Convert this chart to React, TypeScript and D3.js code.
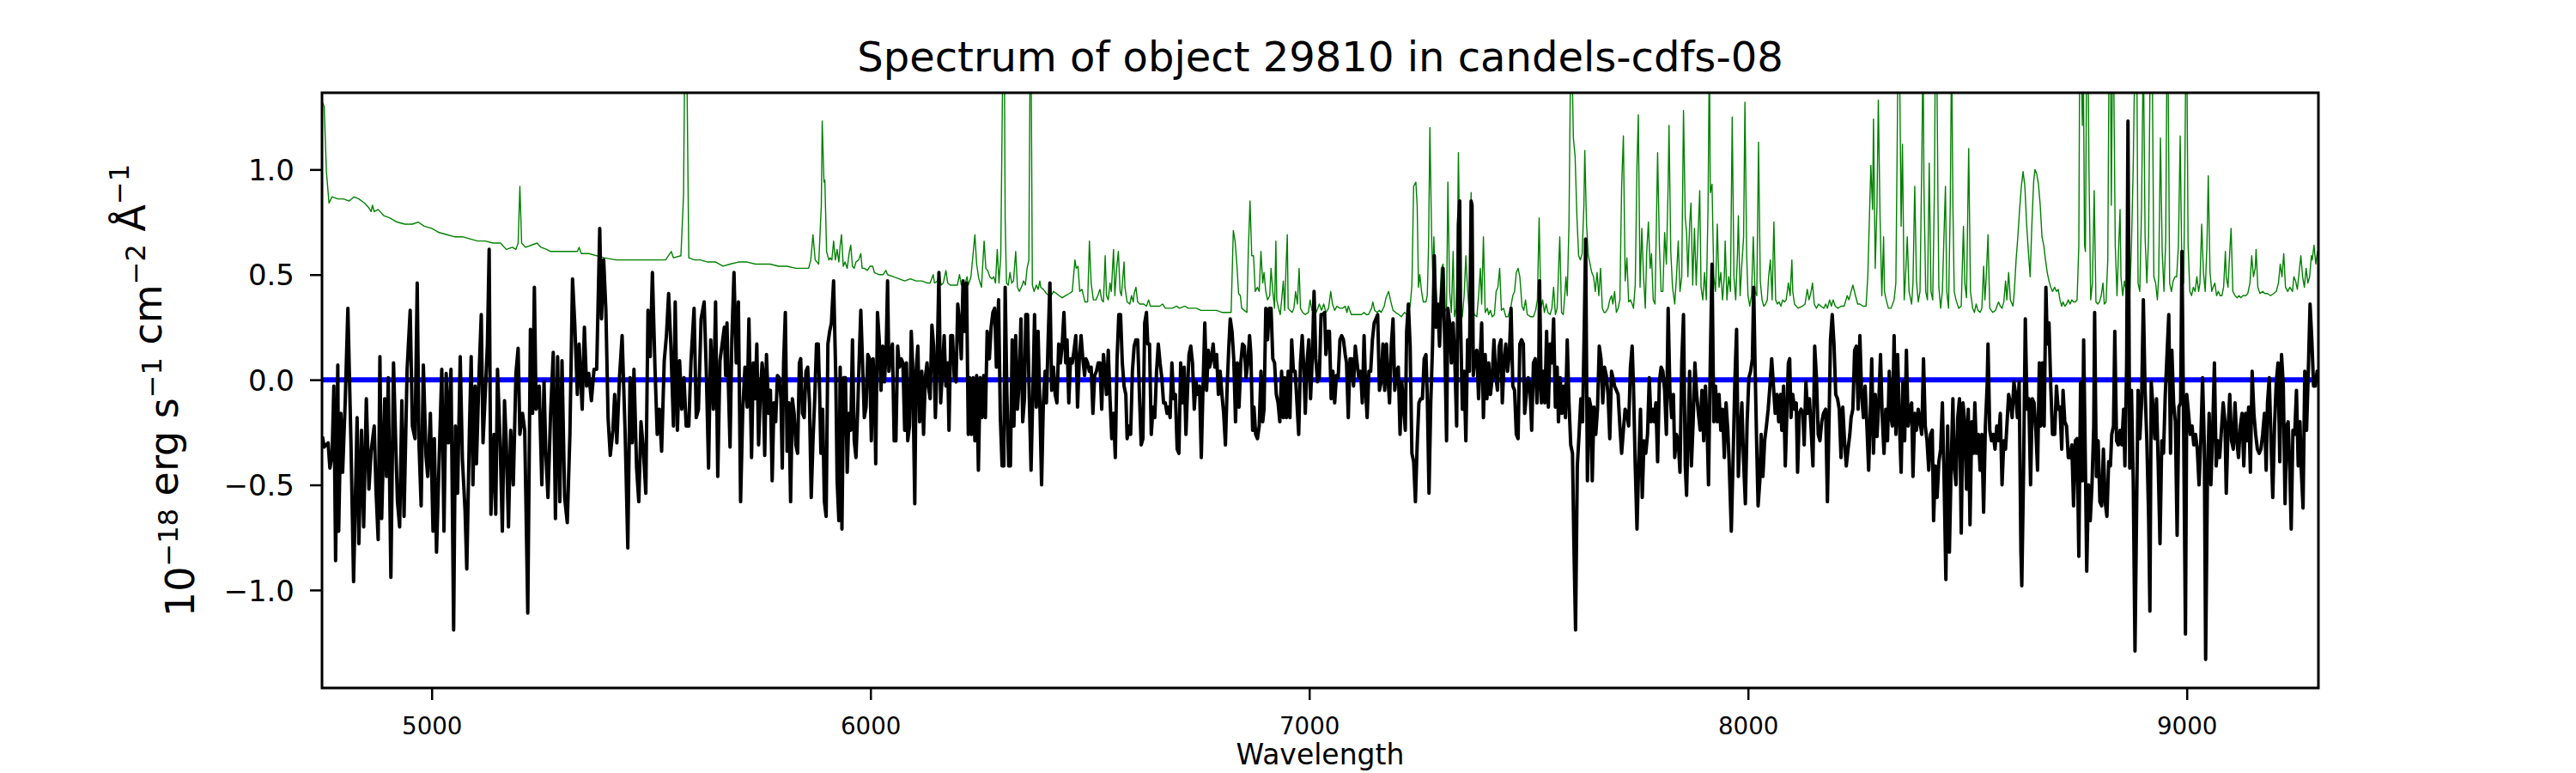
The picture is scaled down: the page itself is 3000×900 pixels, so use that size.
import * as d3 from 'd3';
import React, { useEffect, useRef } from 'react';

const WIDTH = 3000;
const HEIGHT = 900;
const FONT = "DejaVu Sans";

const TITLE = "Spectrum of object 29810 in candels-cdfs-08";
const X_LABEL = "Wavelength";
const X_DOMAIN: [number, number] = [4750, 9300];
const Y_DOMAIN: [number, number] = [-1.466, 1.365];
const X_TICKS = [5000, 6000, 7000, 8000, 9000];
const Y_TICKS = [-1.0, -0.5, 0.0, 0.5, 1.0];

// black curve: [wavelength, flux]
const fluxPoints: [number, number][] = [
  [4751,-0.27],[4755,-0.32],[4764,-0.30],[4768,-0.42],[4773,-0.36],[4777,-0.03],[4781,-0.86],[4786,0.07],[4788,-0.72],[4793,-0.16],[4797,-0.44],[4803,-0.10],[4809,0.34],[4816,-0.30],[4822,-0.96],[4830,-0.18],[4834,-0.78],[4840,-0.24],[4845,-0.70],[4851,-0.09],[4857,-0.52],[4862,-0.34],[4869,-0.22],[4873,-0.52],[4878,-0.76],[4882,0.11],[4886,-0.66],[4893,-0.09],[4897,-0.46],[4901,0.01],[4907,-0.94],[4913,0.08],[4918,-0.30],[4922,-0.58],[4927,-0.70],[4932,-0.10],[4937,-0.65],[4944,0.05],[4951,0.33],[4956,-0.22],[4962,-0.28],[4967,0.46],[4971,-0.30],[4976,-0.60],[4981,0.07],[4987,-0.36],[4991,-0.46],[4997,-0.16],
  [5003,-0.72],[5006,-0.28],[5011,-0.82],[5017,-0.38],[5023,0.05],[5028,-0.72],[5033,0.03],[5038,-0.30],[5044,0.05],[5050,-1.19],[5054,-0.22],[5059,-0.54],[5065,0.11],[5070,-0.38],[5076,-0.62],[5080,-0.90],[5086,-0.24],[5090,0.11],[5094,-0.50],[5099,-0.03],[5102,-0.40],[5108,0.03],[5113,0.31],[5117,-0.30],[5122,-0.07],[5127,0.17],[5131,0.62],[5135,-0.64],[5142,-0.26],[5146,-0.64],[5150,0.05],[5156,-0.30],[5161,-0.72],[5166,-0.10],[5170,-0.30],[5175,-0.70],[5180,-0.24],[5186,-0.50],[5192,0.03],[5197,0.15],[5201,-0.26],[5207,-0.16],[5212,-0.24],[5219,-1.11],[5225,0.24],[5230,-0.16],[5234,0.44],[5238,-0.14],[5245,-0.03],[5251,-0.50],[5256,-0.01],[5260,-0.34],[5265,-0.56],[5271,-0.16],[5277,0.13],[5282,-0.66],[5287,0.11],[5292,-0.58],[5297,0.09],
  [5303,-0.56],[5309,-0.68],[5315,-0.26],[5321,0.48],[5326,0.27],[5332,-0.07],[5336,0.17],[5343,-0.14],[5348,0.25],[5353,-0.03],[5358,0.03],[5364,-0.10],[5370,0.05],[5376,0.05],[5383,0.72],[5387,0.29],[5392,0.57],[5397,0.33],[5402,-0.18],[5407,-0.36],[5413,-0.24],[5417,-0.07],[5422,-0.30],[5428,0.01],[5434,0.21],[5441,-0.26],[5447,-0.80],[5452,0.01],[5457,-0.30],[5461,0.05],[5467,-0.42],[5472,-0.58],[5477,-0.20],[5482,-0.32],[5488,-0.54],[5493,0.33],[5498,0.11],[5503,0.51],[5509,0.05],[5514,-0.26],[5519,-0.14],[5524,-0.34],[5530,0.09],[5535,0.21],[5540,0.41],[5545,0.17],[5551,-0.22],[5555,0.37],[5560,-0.24],[5565,0.09],[5570,-0.14],[5575,0.01],[5580,-0.22],[5586,-0.22],[5591,0.09],[5598,0.34],
  [5603,-0.18],[5608,-0.14],[5614,0.29],[5621,0.37],[5626,0.03],[5631,-0.42],[5636,0.19],[5642,-0.14],[5647,0.37],[5652,-0.46],[5657,0.09],[5667,0.25],[5670,0.02],[5673,0.27],[5676,-0.01],[5680,-0.32],[5684,0.19],[5689,0.51],[5694,0.08],[5699,0.37],[5704,-0.58],[5709,-0.14],[5714,0.06],[5719,-0.13],[5723,0.29],[5729,-0.37],[5733,0.08],[5737,-0.09],[5741,0.17],[5745,-0.31],[5749,-0.07],[5753,0.08],[5755,0.04],[5759,-0.36],[5763,0.12],[5768,-0.16],[5772,-0.05],[5776,-0.48],[5780,-0.11],[5784,-0.20],[5788,0.02],[5792,0.01],[5796,-0.09],[5799,-0.42],
  [5802,0.08],[5806,0.32],[5810,-0.34],[5814,-0.11],[5818,-0.58],[5822,-0.09],[5826,-0.16],[5830,-0.31],[5834,-0.35],[5838,0.08],[5841,0.10],[5845,-0.16],[5849,-0.18],[5853,0.04],[5857,0.06],[5861,-0.11],[5865,-0.56],[5869,-0.29],[5873,-0.09],[5877,0.17],[5881,0.17],[5884,-0.05],[5887,-0.35],[5891,-0.14],[5895,-0.58],[5899,-0.65],[5903,0.17],[5907,0.23],[5911,0.27],[5916,0.47],[5921,0.01],[5924,-0.48],[5928,-0.67],[5931,0.06],[5935,-0.71],[5939,0.01],[5943,0.01],[5947,-0.44],[5951,-0.16],[5955,-0.24],[5959,0.19],[5963,-0.29],[5967,-0.37],[5971,-0.14],[5974,0.08],[5978,0.33],[5982,0.08],[5986,-0.18],[5990,-0.13],[5994,0.12],[5998,0.10],
  [6002,-0.29],[6006,0.10],[6010,-0.11],[6012,-0.40],[6016,0.32],[6020,0.19],[6024,-0.05],[6028,0.16],[6032,-0.01],[6036,0.16],[6039,0.47],[6042,0.04],[6046,0.12],[6050,0.17],[6054,-0.29],[6058,-0.29],[6062,0.16],[6066,0.06],[6070,0.10],[6074,0.08],[6078,-0.24],[6082,0.08],[6085,-0.29],[6089,-0.22],[6093,0.23],[6096,0.08],[6101,-0.59],[6104,0.04],[6108,0.16],[6112,-0.20],[6117,0.04],[6121,-0.26],[6125,0.01],[6129,0.08],[6132,-0.03],[6136,-0.09],[6140,0.26],[6144,0.16],[6148,-0.18],[6152,0.08],[6156,0.51],[6160,-0.11],[6164,0.04],[6168,0.21],[6172,-0.03],[6176,0.08],[6179,-0.24],[6183,0.21],[6187,0.21],[6191,0.01],[6195,-0.01],[6199,0.36],
  [6203,0.27],[6207,0.10],[6211,0.47],[6215,0.23],[6219,0.46],[6223,-0.26],[6226,0.01],[6230,-0.26],[6234,0.01],[6238,-0.29],[6242,0.02],[6246,-0.43],[6250,0.01],[6254,-0.18],[6258,0.02],[6262,-0.18],[6266,0.23],[6271,0.10],[6275,0.25],[6279,0.32],[6283,0.34],[6287,0.06],[6292,0.38],[6296,-0.18],[6300,-0.41],[6304,-0.41],[6307,0.44],[6311,-0.07],[6315,-0.41],[6319,-0.41],[6323,0.19],[6327,-0.22],[6331,0.21],[6335,-0.14],[6339,-0.01],[6343,0.29],[6347,-0.20],[6351,-0.09],[6354,0.31],[6358,0.31],[6362,-0.09],[6366,-0.43],[6370,-0.07],[6374,0.31],[6378,-0.13],[6382,0.23],[6386,-0.11],[6390,-0.50],[6394,-0.11],[6398,0.04],
  [6401,-0.11],[6405,0.19],[6409,0.46],[6413,-0.05],[6417,0.06],[6421,-0.07],[6425,-0.11],[6429,0.17],[6433,0.08],[6437,0.17],[6441,0.32],[6445,0.08],[6448,0.19],[6452,-0.11],[6456,0.10],[6460,0.08],[6464,0.14],[6468,0.21],[6472,-0.13],[6476,0.10],[6480,0.21],[6484,0.10],[6488,0.02],[6491,0.10],[6495,0.08],[6499,0.04],[6503,0.06],[6507,-0.16],[6511,0.02],[6515,0.04],[6519,0.08],[6523,0.08],[6527,-0.14],[6531,0.12],[6535,0.02],[6538,-0.07],[6542,0.14],[6546,-0.09],[6550,-0.28],[6554,-0.16],[6558,-0.37],[6562,0.10],[6566,0.31],[6570,0.31],[6574,0.08],[6578,-0.03],[6582,-0.07],[6585,-0.28],[6589,-0.22],[6593,-0.26],[6597,0.04],
  [6601,0.16],[6605,0.19],[6609,0.19],[6613,-0.07],[6617,-0.31],[6621,-0.28],[6625,0.27],[6629,0.32],[6632,0.17],[6636,0.17],[6640,-0.26],[6644,-0.13],[6648,-0.18],[6652,0.04],[6656,0.17],[6660,0.08],[6664,0.01],[6668,-0.11],[6672,-0.11],[6676,-0.16],[6679,-0.13],[6683,-0.18],[6687,0.08],[6691,-0.09],[6695,-0.07],[6699,-0.33],[6703,-0.35],[6707,0.08],[6711,-0.11],[6715,0.06],[6719,-0.26],[6723,-0.03],[6726,0.12],[6730,0.16],[6734,0.08],[6738,-0.14],[6742,-0.01],[6746,-0.07],[6750,-0.03],[6754,-0.37],[6758,-0.03],[6762,0.27],[6766,-0.05],[6770,0.14],[6773,0.06],[6777,0.10],[6781,0.17],[6785,0.06],[6789,0.12],[6793,-0.07],[6797,0.04],
  [6801,-0.07],[6805,-0.16],[6809,-0.31],[6813,-0.03],[6817,0.17],[6820,0.29],[6824,0.23],[6828,0.10],[6832,-0.20],[6836,0.08],[6840,-0.13],[6844,0.08],[6848,0.17],[6852,0.16],[6856,0.01],[6860,0.08],[6864,0.21],[6867,0.12],[6871,-0.24],[6874,-0.13],[6878,-0.26],[6882,-0.28],[6886,-0.22],[6890,0.04],[6894,-0.20],[6897,-0.14],[6901,0.34],[6905,0.19],[6909,0.34],[6913,0.34],[6917,0.10],[6921,0.08],[6925,-0.07],[6929,-0.11],[6933,-0.20],[6937,0.04],[6941,-0.18],[6944,0.01],[6948,-0.18],[6952,0.04],[6956,-0.18],[6960,0.19],[6964,0.04],[6968,0.04],[6972,-0.11],[6976,-0.26],[6980,0.08],[6984,0.21],[6988,0.04],[6991,-0.16],[6995,0.08],[6999,0.19],
  [7003,-0.09],[7007,0.10],[7011,0.42],[7015,0.10],[7019,-0.01],[7023,0.01],[7027,0.31],[7031,0.31],[7035,0.32],[7038,0.12],[7042,0.23],[7046,0.23],[7050,-0.09],[7054,0.04],[7058,-0.11],[7062,0.02],[7066,0.01],[7070,0.19],[7074,0.21],[7078,0.19],[7082,0.12],[7085,0.08],[7089,-0.18],[7093,0.10],[7097,0.10],[7101,-0.03],[7105,0.16],[7109,0.08],[7113,0.01],[7117,0.04],[7121,-0.11],[7125,0.21],[7129,-0.07],[7132,-0.18],[7136,0.04],[7140,0.04],[7144,0.19],[7148,0.27],[7152,0.29],[7156,0.31],[7160,-0.05],[7164,-0.01],[7168,0.17],[7172,-0.05],[7176,0.17],[7179,0.02],[7183,-0.11],[7187,0.16],[7191,0.29],[7195,-0.05],[7199,0.04],
  [7203,0.06],[7207,-0.26],[7211,-0.01],[7215,-0.13],[7219,-0.24],[7222,0.23],[7226,0.36],[7230,0.16],[7234,-0.35],[7238,-0.39],[7242,-0.58],[7246,-0.31],[7250,-0.11],[7254,-0.09],[7258,-0.09],[7262,0.10],[7266,0.12],[7269,-0.07],[7273,-0.54],[7277,-0.11],[7281,0.16],[7285,0.59],[7289,0.25],[7293,0.36],[7297,0.16],[7301,0.38],[7305,0.53],[7309,0.16],[7313,-0.29],[7316,0.34],[7320,0.27],[7324,0.08],[7328,0.27],[7332,0.08],[7336,-0.22],[7340,0.74],[7343,0.85],[7345,0.27],[7349,-0.14],[7353,0.04],[7357,-0.29],[7361,0.19],[7365,0.04],[7369,0.85],[7371,0.83],[7374,0.02],[7378,0.12],[7382,0.14],[7386,-0.09],[7390,0.12],[7393,0.27],[7397,-0.18],
  [7401,0.12],[7405,-0.09],[7409,0.08],[7413,-0.07],[7417,0.01],[7421,0.19],[7425,0.02],[7429,-0.05],[7433,0.16],[7437,0.19],[7440,-0.11],[7444,0.08],[7448,0.17],[7452,0.04],[7456,0.12],[7460,0.34],[7464,-0.03],[7468,-0.05],[7472,-0.26],[7476,-0.28],[7480,0.17],[7484,0.19],[7488,0.17],[7491,-0.16],[7495,-0.07],[7499,0.01],[7503,-0.03],[7507,-0.24],[7511,0.08],[7515,0.10],[7519,-0.11],[7523,0.04],[7525,0.47],[7529,-0.11],[7533,0.04],[7537,-0.11],[7541,0.23],[7545,-0.13],[7549,0.17],[7553,0.08],[7557,0.29],[7561,-0.13],[7565,0.06],[7568,-0.20],[7572,0.01],[7576,-0.16],[7580,-0.03],[7584,-0.18],[7588,0.19],[7592,-0.11],[7596,-0.31],
  [7600,-0.35],[7603,-0.76],[7607,-1.19],[7611,-0.41],[7615,-0.26],[7619,-0.09],[7623,-0.20],[7627,0.27],[7630,0.67],[7634,-0.48],[7638,-0.09],[7642,-0.13],[7645,-0.48],[7649,-0.13],[7653,-0.26],[7657,-0.14],[7661,0.16],[7665,0.10],[7669,-0.11],[7673,0.06],[7677,0.02],[7681,-0.07],[7685,-0.28],[7689,0.04],[7692,0.01],[7696,-0.03],[7700,-0.05],[7704,-0.07],[7708,-0.22],[7712,-0.35],[7716,-0.24],[7720,-0.14],[7724,-0.16],[7728,-0.22],[7732,0.06],[7736,0.16],[7739,-0.03],[7743,-0.41],[7747,-0.71],[7751,-0.39],[7755,-0.14],[7759,-0.56],[7763,-0.29],[7767,-0.35],[7771,-0.26],[7775,0.01],[7779,-0.20],[7783,-0.14],[7786,-0.20],[7790,-0.11],[7794,-0.39],[7798,-0.01],
  [7802,0.06],[7806,0.04],[7810,-0.05],[7814,-0.26],[7818,0.34],[7822,-0.05],[7826,-0.18],[7830,-0.07],[7833,-0.37],[7837,-0.26],[7841,-0.29],[7845,-0.44],[7849,0.08],[7853,0.31],[7857,-0.41],[7860,-0.55],[7863,-0.28],[7867,0.04],[7871,-0.41],[7875,-0.20],[7879,0.08],[7883,-0.07],[7887,-0.16],[7891,-0.24],[7895,-0.05],[7899,-0.29],[7903,-0.03],[7907,-0.24],[7910,-0.50],[7914,0.08],[7918,0.55],[7922,-0.20],[7926,-0.03],[7930,-0.20],[7934,-0.07],[7938,-0.24],[7942,-0.14],[7946,-0.37],[7950,-0.11],[7954,-0.24],[7957,-0.39],[7962,-0.72],[7967,-0.29],[7970,-0.01],[7974,0.24],[7978,-0.46],[7982,-0.26],[7986,-0.11],[7990,-0.39],[7994,-0.59],[7998,-0.20],
  [8002,0.01],[8006,0.04],[8010,0.10],[8013,0.44],[8016,0.08],[8020,-0.33],[8023,-0.60],[8027,-0.48],[8030,-0.26],[8034,-0.46],[8038,-0.29],[8042,-0.22],[8046,-0.14],[8050,-0.03],[8054,0.10],[8058,-0.03],[8062,-0.16],[8066,-0.07],[8070,-0.20],[8074,-0.07],[8077,-0.24],[8081,-0.03],[8085,-0.41],[8092,0.08],[8095,0.10],[8098,-0.18],[8102,-0.07],[8106,-0.14],[8110,-0.11],[8113,-0.44],[8117,-0.16],[8121,-0.14],[8125,-0.16],[8128,-0.31],[8132,-0.01],[8136,-0.16],[8140,-0.09],[8144,-0.24],[8148,-0.41],[8152,0.16],[8156,0.01],[8160,-0.26],[8164,-0.29],[8168,-0.20],[8172,-0.16],[8177,-0.14],[8181,-0.58],[8185,-0.16],[8188,0.19],[8192,0.31],[8196,0.17],
  [8200,-0.07],[8204,-0.09],[8208,-0.14],[8212,-0.37],[8216,-0.13],[8220,-0.29],[8224,-0.41],[8228,-0.33],[8232,-0.26],[8235,-0.18],[8239,-0.14],[8243,0.14],[8247,0.16],[8251,-0.14],[8255,0.21],[8259,-0.07],[8263,-0.18],[8267,-0.03],[8271,-0.22],[8275,-0.43],[8279,-0.14],[8282,0.10],[8286,-0.35],[8290,-0.07],[8294,-0.27],[8298,-0.11],[8302,0.12],[8306,-0.18],[8310,-0.35],[8314,-0.14],[8318,-0.29],[8322,0.04],[8326,-0.18],[8329,-0.22],[8333,0.21],[8337,-0.26],[8341,0.12],[8345,-0.20],[8349,-0.44],[8353,-0.01],[8357,-0.29],[8361,0.14],[8365,-0.22],[8369,-0.14],[8373,-0.11],[8376,-0.46],[8380,-0.16],[8384,-0.24],[8388,-0.14],[8392,-0.20],[8396,-0.26],
  [8400,0.10],[8404,-0.22],[8408,-0.29],[8412,-0.43],[8416,-0.26],[8420,-0.24],[8423,-0.67],[8427,-0.41],[8431,-0.56],[8435,-0.39],[8439,-0.33],[8443,-0.11],[8447,-0.48],[8451,-0.95],[8455,-0.22],[8459,-0.82],[8463,-0.41],[8467,-0.09],[8470,-0.41],[8474,-0.50],[8478,-0.18],[8482,-0.09],[8486,-0.73],[8490,-0.11],[8494,-0.20],[8498,-0.52],[8502,-0.14],[8506,-0.69],[8510,-0.20],[8514,-0.35],[8517,-0.11],[8521,-0.35],[8525,-0.26],[8529,-0.43],[8533,-0.26],[8537,-0.63],[8541,-0.22],[8545,-0.03],[8547,0.17],[8551,-0.24],[8555,-0.29],[8559,-0.26],[8563,-0.33],[8567,-0.22],[8571,-0.29],[8575,-0.16],[8579,-0.50],[8583,-0.29],[8587,-0.33],[8590,-0.22],[8594,-0.07],[8598,-0.11],
  [8602,-0.18],[8606,-0.01],[8610,-0.07],[8614,-0.18],[8618,-0.01],[8622,-0.82],[8624,-0.98],[8628,-0.44],[8632,0.29],[8636,-0.14],[8640,-0.09],[8644,-0.50],[8648,-0.09],[8652,-0.11],[8656,-0.24],[8660,-0.43],[8664,0.08],[8667,-0.22],[8671,0.08],[8675,-0.22],[8679,0.44],[8682,0.17],[8686,0.27],[8690,-0.03],[8694,-0.26],[8699,-0.26],[8703,-0.03],[8707,-0.14],[8711,-0.13],[8715,-0.33],[8718,-0.05],[8722,-0.20],[8726,-0.22],[8730,-0.37],[8734,-0.37],[8738,-0.31],[8742,-0.60],[8746,-0.29],[8750,-0.28],[8754,-0.84],[8758,-0.01],[8762,-0.48],[8765,0.19],[8769,-0.41],[8772,-0.91],[8776,-0.50],[8780,-0.67],[8784,-0.50],[8788,-0.22],[8790,0.32],[8794,-0.46],[8798,-0.29],
  [8802,-0.58],[8806,-0.60],[8810,-0.33],[8814,-0.58],[8818,-0.65],[8822,-0.39],[8826,-0.41],[8829,-0.26],[8833,-0.22],[8836,0.23],[8840,-0.29],[8844,-0.31],[8848,-0.24],[8852,-0.31],[8856,-0.14],[8859,-0.41],[8863,0.08],[8866,1.23],[8870,-0.42],[8874,-0.05],[8878,-0.48],[8882,-1.29],[8886,-0.56],[8889,-0.05],[8893,-0.28],[8897,-0.11],[8901,0.38],[8905,-0.05],[8909,-0.29],[8913,-0.65],[8916,-1.10],[8919,-0.01],[8923,-0.13],[8927,-0.28],[8931,-0.09],[8935,-0.41],[8939,-0.78],[8943,-0.29],[8947,-0.35],[8951,-0.07],[8955,0.12],[8959,0.31],[8963,-0.35],[8966,0.14],[8970,-0.11],[8974,-0.20],[8978,-0.74],[8982,-0.13],[8986,-0.11],[8989,0.61],[8993,-0.26],[8997,-1.21],
  [9000,-0.07],[9004,-0.16],[9008,-0.26],[9012,-0.22],[9016,-0.31],[9020,-0.26],[9024,-0.33],[9028,-0.50],[9032,-0.29],[9036,0.01],[9040,-0.31],[9043,-1.33],[9047,-0.48],[9051,-0.16],[9055,-0.50],[9059,-0.24],[9063,0.08],[9067,-0.41],[9071,-0.29],[9075,-0.37],[9079,-0.24],[9083,-0.11],[9087,-0.20],[9090,-0.54],[9094,-0.24],[9098,-0.07],[9102,-0.29],[9106,-0.33],[9110,-0.11],[9114,-0.29],[9118,-0.37],[9122,-0.22],[9126,-0.16],[9130,-0.41],[9134,-0.16],[9137,-0.29],[9141,-0.13],[9145,-0.44],[9149,0.04],[9153,-0.16],[9157,-0.26],[9161,-0.33],[9165,-0.35],[9169,-0.33],[9173,-0.26],[9177,-0.16],[9181,-0.43],[9184,-0.11],[9188,0.01],[9192,-0.29],[9196,-0.56],
  [9200,-0.22],[9204,-0.01],[9208,0.08],[9212,-0.39],[9216,0.12],[9220,-0.03],[9224,-0.59],[9228,-0.22],[9231,-0.20],[9235,-0.44],[9238,-0.71],[9242,-0.24],[9246,-0.26],[9250,-0.05],[9254,-0.41],[9258,-0.20],[9261,-0.43],[9265,-0.61],[9269,0.04],[9273,-0.24],[9277,0.04],[9281,0.36],[9285,0.19],[9289,-0.03],[9293,-0.03],[9297,0.04],[9300,0.02],
];

// green curve: [wavelength, value]; spikes above the frame are clipped
const skyPoints: [number, number][] = [
  [4751,1.32],[4755,1.30],[4760,0.99],[4766,0.84],[4773,0.87],[4786,0.86],[4799,0.86],[4812,0.85],[4823,0.87],[4834,0.86],[4847,0.84],[4856,0.82],[4862,0.80],[4865,0.83],[4869,0.80],[4878,0.81],[4891,0.78],[4904,0.77],[4921,0.75],[4939,0.74],[4956,0.74],[4969,0.75],[4983,0.73],
  [5000,0.72],[5017,0.70],[5035,0.69],[5052,0.68],[5070,0.68],[5087,0.67],[5105,0.66],[5122,0.66],[5140,0.65],[5157,0.65],[5170,0.62],[5184,0.63],[5192,0.62],[5197,0.65],[5201,0.92],[5205,0.65],[5214,0.63],[5227,0.64],[5240,0.65],[5249,0.63],[5262,0.62],[5271,0.61],[5297,0.61],[5332,0.61],[5336,0.63],[5341,0.60],[5358,0.60],[5393,0.58],[5420,0.57],[5446,0.57],[5472,0.57],[5498,0.57],[5533,0.57],[5546,0.61],[5551,0.58],[5568,0.59],[5574,0.88],[5577,1.6],[5581,1.6],[5586,0.58],[5599,0.57],[5612,0.57],[5629,0.56],[5647,0.56],[5664,0.54],[5680,0.55],
  [5699,0.56],[5719,0.56],[5738,0.55],[5758,0.55],[5771,0.55],[5791,0.54],[5810,0.54],[5830,0.53],[5849,0.53],[5859,0.53],[5864,0.57],[5869,0.69],[5874,0.57],[5882,0.55],[5888,0.83],[5890,1.23],[5894,0.94],[5896,0.95],[5900,0.61],[5905,0.57],[5908,0.58],[5912,0.57],[5916,0.66],[5920,0.57],[5924,0.62],[5928,0.56],[5931,0.64],[5934,0.69],[5938,0.54],[5942,0.56],[5947,0.53],[5952,0.61],[5955,0.64],[5959,0.54],[5963,0.53],[5967,0.56],[5973,0.57],[5978,0.60],[5981,0.53],[5986,0.53],[5993,0.52],[5999,0.54],
  [6005,0.54],[6009,0.51],[6019,0.50],[6029,0.50],[6035,0.52],[6039,0.50],[6052,0.49],[6065,0.48],[6078,0.47],[6091,0.48],[6104,0.47],[6117,0.47],[6130,0.46],[6136,0.46],[6143,0.50],[6146,0.46],[6153,0.47],[6157,0.51],[6161,0.45],[6166,0.46],[6172,0.52],[6176,0.46],[6182,0.45],[6189,0.45],[6198,0.45],[6203,0.50],[6207,0.45],[6211,0.47],[6215,0.45],[6220,0.49],[6223,0.45],[6229,0.49],[6238,0.69],[6242,0.55],[6247,0.48],[6253,0.44],[6259,0.66],[6263,0.53],[6267,0.52],
  [6272,0.49],[6277,0.48],[6281,0.49],[6285,0.46],[6289,0.62],[6293,0.46],[6297,0.59],[6300,1.2],[6302,1.6],[6305,1.6],[6307,0.76],[6310,0.46],[6314,0.45],[6318,0.51],[6322,0.46],[6326,0.47],[6331,0.61],[6335,0.44],[6339,0.42],[6344,0.44],[6349,0.47],[6353,0.45],[6357,0.53],[6361,0.57],[6364,1.6],[6366,1.6],[6369,0.45],[6373,0.42],[6378,0.45],[6382,0.43],[6386,0.47],[6388,0.44],[6394,0.43],
  [6401,0.41],[6407,0.40],[6412,0.40],[6417,0.42],[6424,0.41],[6430,0.40],[6437,0.39],[6445,0.40],[6453,0.41],[6460,0.42],[6466,0.57],[6469,0.53],[6473,0.54],[6477,0.42],[6482,0.43],[6489,0.37],[6495,0.37],[6499,0.66],[6503,0.46],[6508,0.38],[6514,0.38],[6518,0.40],[6523,0.43],[6527,0.38],[6531,0.37],[6535,0.59],[6538,0.40],[6542,0.38],[6546,0.46],[6549,0.42],[6554,0.62],[6557,0.40],[6561,0.53],[6565,0.61],[6569,0.42],[6572,0.40],[6578,0.56],[6580,0.44],[6585,0.37],[6591,0.36],[6595,0.40],[6599,0.37],
  [6601,0.41],[6605,0.44],[6609,0.37],[6614,0.36],[6623,0.36],[6629,0.35],[6634,0.38],[6638,0.35],[6642,0.35],[6652,0.35],[6659,0.35],[6666,0.36],[6672,0.34],[6678,0.34],[6688,0.34],[6698,0.35],[6704,0.34],[6717,0.35],[6724,0.34],[6734,0.34],[6743,0.34],[6753,0.33],[6763,0.33],[6776,0.33],[6786,0.33],[6789,0.33],[6802,0.32],[6815,0.32],[6822,0.32],[6827,0.71],[6831,0.66],[6835,0.55],[6839,0.41],[6843,0.40],[6846,0.34],[6852,0.33],[6858,0.32],[6861,0.60],[6865,0.85],[6869,0.59],[6873,0.59],
  [6877,0.42],[6882,0.44],[6886,0.42],[6890,0.61],[6894,0.46],[6897,0.51],[6901,0.42],[6905,0.38],[6910,0.40],[6913,0.53],[6917,0.42],[6921,0.34],[6924,0.66],[6926,0.38],[6930,0.34],[6934,0.31],[6938,0.40],[6941,0.47],[6944,0.33],[6947,0.53],[6950,0.69],[6952,0.34],[6956,0.33],[6961,0.32],[6965,0.34],[6969,0.42],[6973,0.36],[6977,0.53],[6980,0.34],[6985,0.32],[6991,0.31],[6998,0.32],
  [7002,0.38],[7006,0.33],[7011,0.36],[7016,0.32],[7023,0.36],[7028,0.33],[7033,0.36],[7038,0.32],[7044,0.34],[7049,0.42],[7053,0.36],[7058,0.33],[7063,0.35],[7070,0.34],[7076,0.34],[7082,0.35],[7086,0.32],[7089,0.35],[7096,0.31],[7102,0.31],[7109,0.31],[7119,0.31],[7125,0.32],[7130,0.31],[7135,0.31],[7142,0.34],[7145,0.37],[7149,0.33],[7155,0.32],[7160,0.33],[7164,0.32],[7171,0.35],[7175,0.39],[7181,0.42],[7185,0.38],[7191,0.33],[7197,0.32],
  [7204,0.31],[7210,0.30],[7217,0.32],[7223,0.31],[7230,0.35],[7234,0.45],[7238,0.92],[7243,0.94],[7246,0.83],[7249,0.44],[7252,0.50],[7256,0.42],[7260,0.37],[7266,0.37],[7269,0.40],[7272,0.64],[7275,1.20],[7279,0.68],[7282,0.46],[7284,0.68],[7286,0.55],[7292,0.32],[7297,0.34],[7301,0.53],[7305,0.55],[7308,0.32],[7313,0.34],[7316,0.94],[7320,0.42],[7324,0.32],[7328,0.61],[7331,0.30],[7335,0.34],[7337,0.51],[7340,1.08],[7343,0.64],[7345,0.38],[7349,0.30],[7353,0.40],[7357,0.59],[7360,0.46],[7365,0.30],[7369,0.89],[7371,0.38],[7376,0.31],[7382,0.30],[7386,0.40],[7390,0.53],[7393,0.36],[7397,0.68],
  [7401,0.32],[7406,0.34],[7409,0.31],[7413,0.33],[7417,0.30],[7422,0.31],[7426,0.42],[7430,0.44],[7434,0.53],[7438,0.33],[7443,0.34],[7448,0.30],[7453,0.30],[7459,0.34],[7464,0.40],[7468,0.42],[7472,0.51],[7476,0.53],[7480,0.49],[7485,0.35],[7489,0.33],[7493,0.38],[7497,0.31],[7504,0.30],[7511,0.30],[7516,0.33],[7520,0.38],[7524,0.77],[7528,0.34],[7532,0.38],[7536,0.32],[7540,0.36],[7544,0.32],[7549,0.31],[7553,0.34],[7557,0.44],[7561,0.31],[7565,0.34],[7567,0.45],[7571,0.68],[7575,0.32],[7579,0.31],[7583,0.42],[7585,0.49],[7588,0.40],[7592,0.74],[7596,1.6],[7598,1.6],
  [7602,1.15],[7606,1.06],[7610,0.78],[7614,0.59],[7618,0.57],[7622,0.60],[7626,0.83],[7628,1.09],[7632,0.74],[7636,0.59],[7640,0.55],[7644,0.51],[7648,0.49],[7652,0.42],[7656,0.51],[7660,0.40],[7664,0.53],[7668,0.34],[7672,0.32],[7675,0.32],[7681,0.34],[7685,0.38],[7689,0.40],[7692,0.36],[7696,0.42],[7700,0.32],[7704,0.34],[7708,0.38],[7712,0.92],[7716,1.16],[7720,0.47],[7724,0.58],[7728,0.37],[7732,0.38],[7736,0.36],[7739,0.34],[7743,0.45],[7747,1.02],[7750,1.26],[7754,0.44],[7758,0.72],[7762,0.49],[7766,0.34],[7769,0.60],[7773,0.75],[7777,0.53],[7780,0.60],[7784,0.38],[7788,0.36],[7792,0.83],[7794,1.08],[7798,0.64],
  [7802,0.42],[7806,0.42],[7810,0.70],[7814,0.55],[7818,0.92],[7820,1.21],[7824,0.61],[7828,0.44],[7833,0.36],[7837,0.49],[7841,0.66],[7845,0.42],[7849,0.49],[7853,1.28],[7857,0.77],[7860,0.70],[7863,0.49],[7867,0.74],[7870,0.84],[7874,0.45],[7878,0.72],[7882,0.45],[7886,0.68],[7890,0.90],[7893,0.44],[7897,0.38],[7901,0.51],[7905,0.38],[7909,0.83],[7912,1.6],[7914,0.89],[7918,0.93],[7922,0.49],[7926,0.42],[7930,0.74],[7934,0.44],[7938,0.51],[7942,0.38],[7946,0.49],[7948,0.66],[7952,0.38],[7956,0.49],[7960,0.42],[7964,1.25],[7968,0.49],[7972,0.38],[7976,0.60],[7978,0.78],[7982,0.40],[7986,0.55],[7990,0.68],[7993,1.32],[7997,0.59],
  [8000,0.40],[8004,0.35],[8008,0.40],[8012,0.68],[8016,0.42],[8020,0.40],[8024,1.13],[8028,0.47],[8032,0.38],[8036,0.35],[8040,0.36],[8044,0.38],[8047,0.49],[8051,0.57],[8055,0.38],[8059,0.75],[8063,0.38],[8067,0.36],[8071,0.37],[8075,0.35],[8079,0.38],[8083,0.37],[8087,0.38],[8092,0.46],[8096,0.40],[8100,0.57],[8102,0.42],[8106,0.36],[8114,0.34],[8124,0.35],[8130,0.36],[8135,0.43],[8139,0.38],[8143,0.41],[8147,0.46],[8151,0.36],[8156,0.34],[8161,0.36],[8166,0.35],[8173,0.34],[8177,0.36],[8181,0.34],[8186,0.38],[8190,0.35],[8194,0.38],[8199,0.35],
  [8205,0.34],[8212,0.35],[8219,0.35],[8222,0.37],[8226,0.40],[8230,0.38],[8235,0.42],[8239,0.45],[8245,0.40],[8250,0.36],[8255,0.36],[8262,0.35],[8269,0.35],[8273,0.49],[8277,0.79],[8280,1.02],[8284,0.81],[8286,1.24],[8290,0.53],[8294,0.83],[8297,1.33],[8301,0.77],[8305,0.40],[8309,0.68],[8311,0.42],[8315,0.38],[8320,0.34],[8326,0.34],[8333,0.38],[8337,0.46],[8340,1.11],[8342,1.6],[8345,1.6],[8349,0.73],[8352,1.12],[8356,0.38],[8359,0.49],[8363,0.68],[8367,0.42],[8373,0.36],[8376,0.46],[8380,0.92],[8384,0.47],[8388,0.37],[8392,0.42],[8396,1.02],[8399,1.6],
  [8401,0.92],[8405,0.42],[8409,0.38],[8413,1.03],[8417,0.42],[8421,0.38],[8425,0.92],[8427,1.6],[8430,1.6],[8433,0.83],[8435,0.44],[8439,0.34],[8443,0.42],[8446,0.64],[8450,0.92],[8453,0.42],[8457,0.34],[8461,0.83],[8464,1.6],[8467,0.83],[8470,0.42],[8474,0.38],[8480,0.34],[8486,0.35],[8491,0.73],[8494,0.46],[8498,0.39],[8503,1.10],[8507,0.42],[8512,0.34],[8516,0.32],[8520,0.36],[8524,0.33],[8529,0.32],[8533,0.34],[8537,0.54],[8540,0.38],[8543,0.49],[8547,0.69],[8551,0.34],[8558,0.32],[8564,0.33],[8571,0.37],[8575,0.35],[8579,0.34],[8583,0.37],[8587,0.47],[8590,0.38],[8594,0.51],[8598,0.38],
  [8604,0.35],[8607,0.42],[8611,0.57],[8615,0.68],[8619,0.81],[8623,0.92],[8627,0.99],[8631,0.92],[8635,0.74],[8639,0.61],[8643,0.49],[8647,0.74],[8651,0.94],[8654,1.00],[8658,0.98],[8662,0.93],[8666,0.83],[8670,0.68],[8674,0.64],[8678,0.57],[8682,0.51],[8686,0.47],[8690,0.44],[8694,0.42],[8699,0.44],[8703,0.42],[8707,0.43],[8711,0.38],[8715,0.35],[8718,0.37],[8722,0.35],[8726,0.36],[8730,0.38],[8734,0.36],[8738,0.38],[8742,0.37],[8746,0.37],[8750,0.38],[8754,0.64],[8756,1.6],[8759,1.6],[8762,1.21],[8764,1.6],[8767,0.64],[8769,0.61],[8772,1.6],[8775,1.6],[8777,1.02],[8781,0.38],[8785,0.46],[8789,0.90],[8793,0.37],[8797,0.36],
  [8801,0.37],[8805,0.40],[8809,0.46],[8812,0.36],[8816,0.37],[8820,0.57],[8823,1.6],[8826,1.6],[8828,0.83],[8831,1.6],[8833,1.6],[8837,0.64],[8841,0.40],[8845,0.64],[8848,0.81],[8850,0.49],[8854,0.40],[8858,0.47],[8862,0.42],[8866,0.57],[8870,0.40],[8874,0.64],[8878,1.02],[8882,1.6],[8886,1.6],[8889,0.46],[8893,0.42],[8897,0.83],[8901,1.6],[8905,0.68],[8909,0.46],[8913,0.68],[8917,1.6],[8921,1.6],[8925,0.49],[8929,0.46],[8933,0.38],[8936,0.49],[8940,1.15],[8944,0.61],[8948,0.42],[8952,0.66],[8955,1.6],[8957,1.6],[8961,0.46],[8965,0.42],[8969,0.47],[8973,0.49],[8977,0.49],[8981,0.64],[8985,1.16],[8989,0.49],[8993,0.46],[8995,0.83],[8998,1.6],
  [9000,1.6],[9003,0.64],[9007,0.42],[9011,0.40],[9015,0.44],[9019,0.42],[9023,0.49],[9027,0.42],[9030,0.46],[9034,0.74],[9038,0.51],[9042,0.42],[9046,0.64],[9049,0.97],[9053,0.51],[9057,0.42],[9060,0.44],[9064,0.46],[9068,0.40],[9072,0.42],[9076,0.40],[9080,0.40],[9084,0.44],[9088,0.61],[9090,0.49],[9094,0.44],[9098,0.61],[9101,0.72],[9105,0.42],[9110,0.40],[9115,0.39],[9119,0.40],[9123,0.39],[9128,0.40],[9134,0.40],[9139,0.41],[9144,0.46],[9148,0.59],[9152,0.49],[9156,0.53],[9158,0.62],[9162,0.44],[9167,0.41],[9173,0.42],[9178,0.41],[9184,0.41],[9191,0.40],[9198,0.41],
  [9204,0.42],[9209,0.46],[9213,0.55],[9217,0.49],[9221,0.60],[9225,0.44],[9230,0.42],[9235,0.44],[9241,0.42],[9244,0.49],[9248,0.47],[9252,0.43],[9256,0.51],[9260,0.59],[9264,0.49],[9268,0.44],[9272,0.53],[9276,0.46],[9280,0.49],[9284,0.59],[9286,0.57],[9290,0.64],[9294,0.55],[9298,0.61],[9300,0.53],
];

// blue zero level
const zeroLevel: [number, number][] = [[4750, 0], [9300, 0]];

const App: React.FC = () => {
  const svgRef = useRef<SVGSVGElement>(null);

  useEffect(() => {
    if (!svgRef.current) { return; }
    const svg = d3.select(svgRef.current);
    svg.selectAll("*").remove();

    const margin = { top: 108, right: 300, bottom: 99, left: 375 };
    const chartWidth = WIDTH - margin.left - margin.right;
    const chartHeight = HEIGHT - margin.top - margin.bottom;

    const xScale = d3.scaleLinear().domain(X_DOMAIN).range([0, chartWidth]);
    const yScale = d3.scaleLinear().domain(Y_DOMAIN).range([chartHeight, 0]);

    svg.append("rect")
      .attr("width", WIDTH)
      .attr("height", HEIGHT)
      .attr("fill", "white");

    const chart = svg.append("g")
      .attr("transform", `translate(${margin.left},${margin.top})`);

    chart.append("clipPath")
      .attr("id", "plot-area")
      .append("rect")
      .attr("width", chartWidth)
      .attr("height", chartHeight);

    const line = d3.line<[number, number]>()
      .x(dp => xScale(dp[0]))
      .y(dp => yScale(dp[1]));

    const plot = chart.append("g").attr("clip-path", "url(#plot-area)");

    plot.append("path")
      .datum(zeroLevel)
      .attr("fill", "none")
      .attr("stroke", "#0000ff")
      .attr("stroke-width", 6)
      .attr("d", line);

    plot.append("path")
      .datum(skyPoints)
      .attr("fill", "none")
      .attr("stroke", "#008000")
      .attr("stroke-width", 1.4)
      .attr("stroke-linejoin", "round")
      .attr("d", line);

    plot.append("path")
      .datum(fluxPoints)
      .attr("fill", "none")
      .attr("stroke", "#000000")
      .attr("stroke-width", 4)
      .attr("stroke-linejoin", "round")
      .attr("d", line);

    // frame
    chart.append("rect")
      .attr("width", chartWidth)
      .attr("height", chartHeight)
      .attr("fill", "none")
      .attr("stroke", "#000")
      .attr("stroke-width", 3);

    // axes
    const xAxis = chart.append("g")
      .attr("transform", `translate(0,${chartHeight})`)
      .call(d3.axisBottom(xScale)
        .tickValues(X_TICKS)
        .tickSize(14)
        .tickPadding(20)
        .tickFormat(d3.format("d") as any)
      )
      .attr("font-family", FONT)
      .attr("font-size", 27.7);
    xAxis.select(".domain").remove();
    xAxis.selectAll("line").attr("stroke-width", 2.5);

    const yAxis = chart.append("g")
      .call(d3.axisLeft(yScale)
        .tickValues(Y_TICKS)
        .tickSize(14)
        .tickPadding(18)
        .tickFormat(d3.format(".1f") as any)
      )
      .attr("font-family", FONT)
      .attr("font-size", 34);
    yAxis.select(".domain").remove();
    yAxis.selectAll("line").attr("stroke-width", 2.5);
    yAxis.selectAll("text").attr("dy", "0.36em");

    // title and labels
    svg.append("text")
      .attr("x", margin.left + chartWidth / 2)
      .attr("y", 83)
      .attr("text-anchor", "middle")
      .attr("font-family", FONT)
      .attr("font-size", 48)
      .text(TITLE);

    svg.append("text")
      .attr("x", margin.left + chartWidth / 2)
      .attr("y", 890)
      .attr("text-anchor", "middle")
      .attr("font-family", FONT)
      .attr("font-size", 33)
      .text(X_LABEL);

    const yLabel = svg.append("text")
      .attr("transform", `translate(226,${margin.top + chartHeight / 2}) rotate(-90)`)
      .attr("text-anchor", "middle")
      .attr("font-family", FONT)
      .attr("font-size", 46);
    const parts: [string, string][] = [["10", "\u221218"], [" erg s", "\u22121"], [" cm", "\u22122"], [" \u00c5", "\u22121"]];
    parts.forEach(([base, sup]) => {
      yLabel.append("tspan").attr("dy", 0).text(base);
      yLabel.append("tspan").attr("dy", -19).attr("font-size", 32).text(sup);
      yLabel.append("tspan").attr("dy", 19).attr("font-size", 32).text("");
    });
  }, []);

  return (
    <div style={{ position: "absolute", left: 0, top: 0, width: WIDTH, height: HEIGHT }}>
      <svg ref={svgRef} width={WIDTH} height={HEIGHT} />
    </div>
  );
};

export default App;
